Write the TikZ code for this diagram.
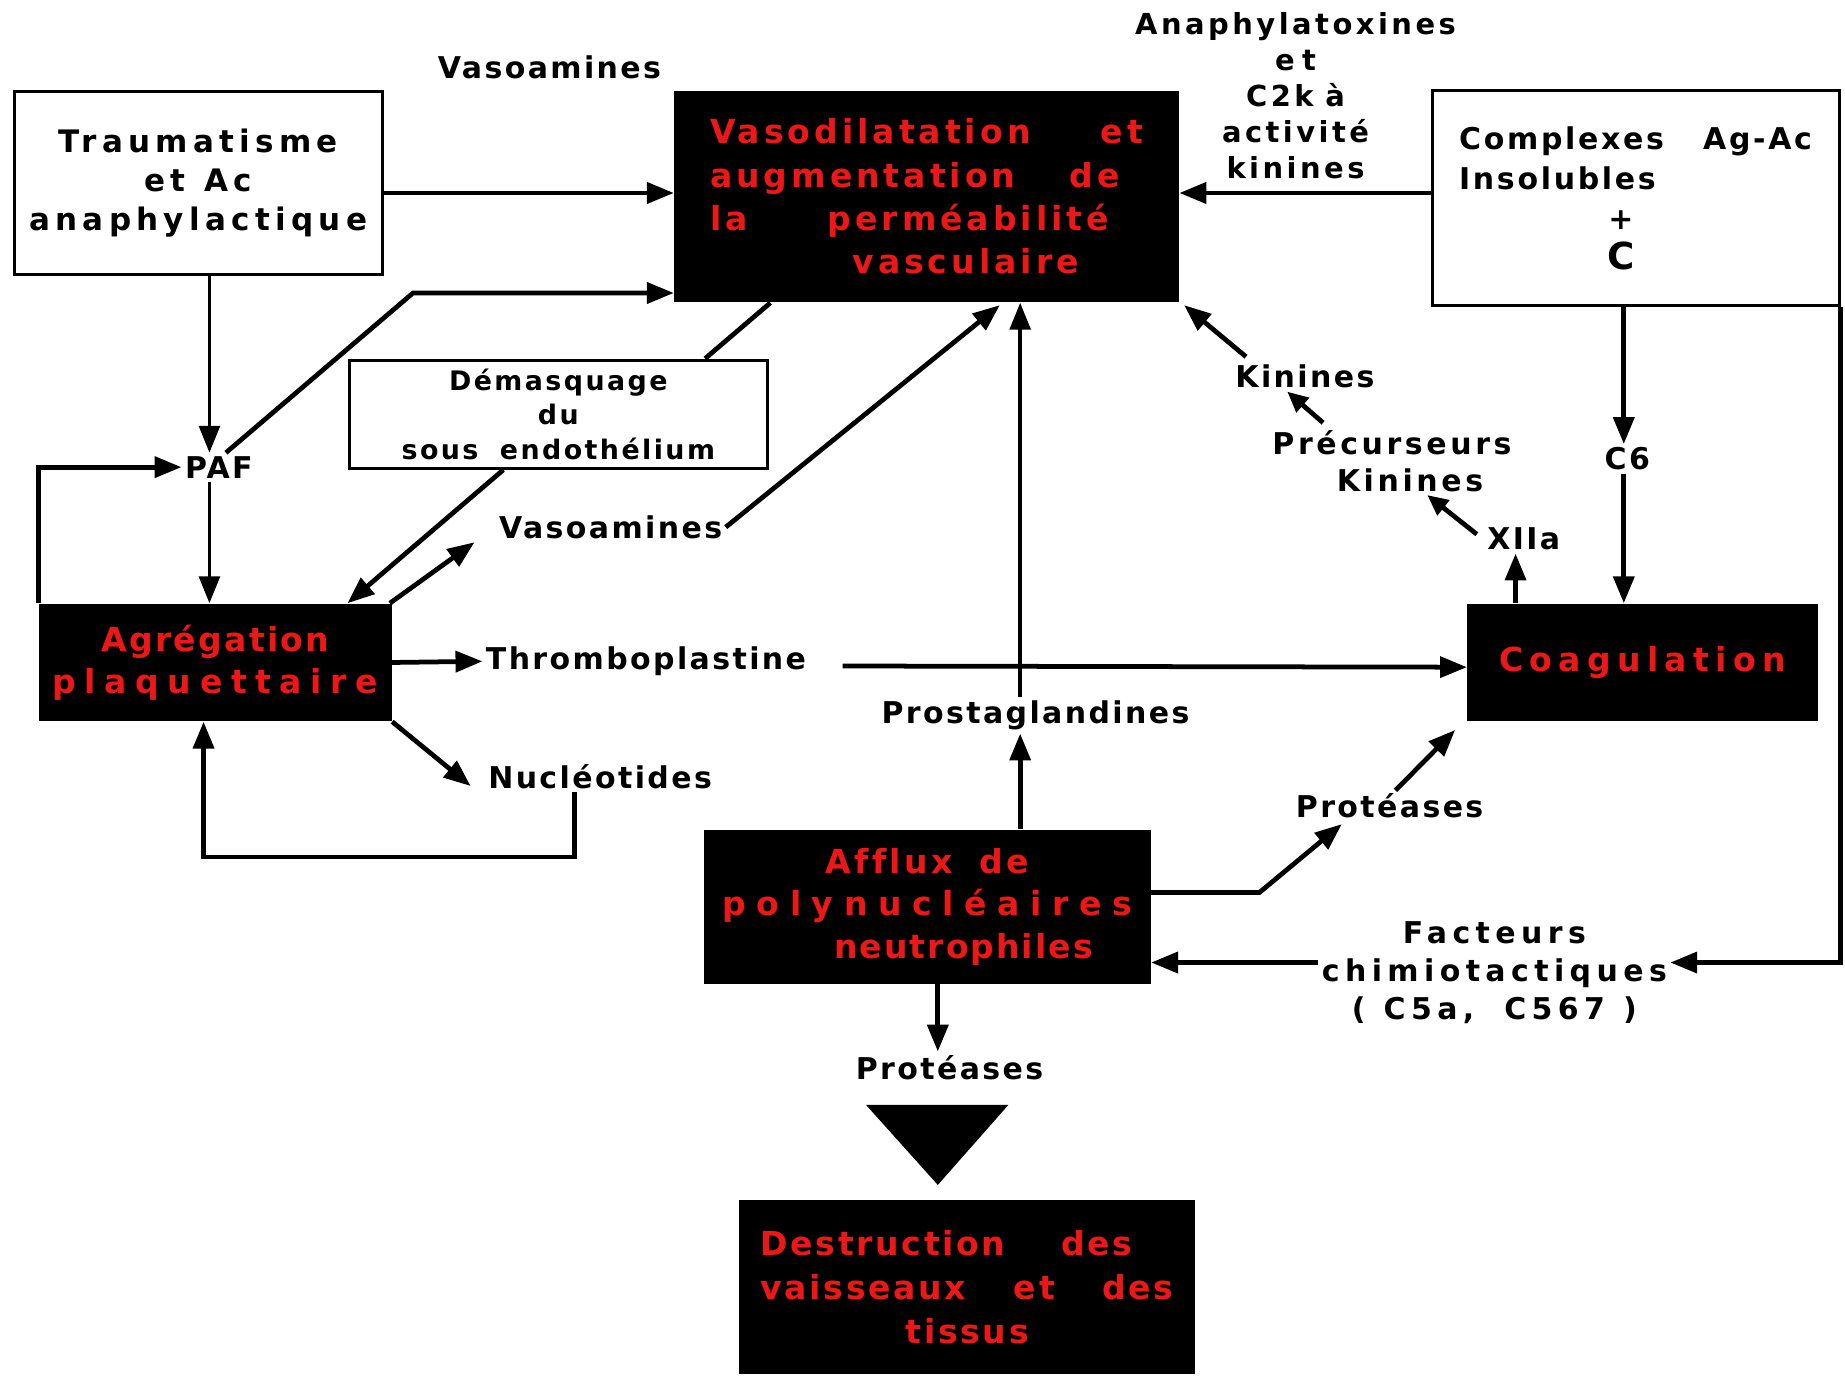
\documentclass[tikz,border=0pt]{standalone}
\usepackage{fontspec}
\setmainfont{DejaVu Sans}
\newfontfamily\fA{DejaVu Sans}[LetterSpace=8,Ligatures=NoCommon]
\newfontfamily\fB{DejaVu Sans}[LetterSpace=17,Ligatures=NoCommon]
\usetikzlibrary{arrows.meta,calc}
\definecolor{redtxt}{RGB}{236,24,24}
\newcommand{\lsp}[2]{{\addfontfeature{LetterSpace=#1}#2}}
\newcommand{\fLab}{\fA\bfseries\fontsize{14.5}{17.5}\selectfont}
\newcommand{\fRed}{\fA\bfseries\fontsize{16}{20.5}\selectfont}
\begin{document}
\begin{tikzpicture}[x=0.02cm,y=-0.02cm]
\tikzset{
 wbox/.style={draw,line width=1.5pt,inner sep=0pt,align=center},
 bbox/.style={fill=black,text=redtxt,inner sep=0pt,align=center,font=\fRed},
 lab/.style={inner sep=1.5pt,align=center,font=\fLab},
 arr/.style={line width=2.3pt,-{Triangle[length=13pt,width=10pt]}},
 thinarr/.style={line width=1.8pt,-{Triangle[length=13pt,width=10pt]}},
 sarr/.style={line width=2.3pt,-{Triangle[length=10pt,width=9pt]}},
 plain/.style={line width=2.3pt},
}
\fill[white] (0,0) rectangle (1568,1171);
\useasboundingbox (0,0) rectangle (1568,1171);

% boxes
\node[wbox,minimum width=6.26cm,minimum height=3.1cm,
  font=\fB\bfseries\fontsize{15}{18.8}\selectfont] (trauma) at (168.5,155.5)
  {Traumatisme\\et\hspace{0.6em}Ac\\anaphylactique};
\node[bbox,minimum width=8.58cm,minimum height=3.6cm,
  font=\fA\bfseries\addfontfeature{LetterSpace=12}\fontsize{16}{21}\selectfont] (vasod) at (787.5,167)
  {\makebox[7.36cm][s]{Vasodilatation\hfill et}\\
   \makebox[7.36cm][l]{\makebox[6.96cm][s]{augmentation\hfill de}}\\
   \makebox[7.36cm][l]{\makebox[6.78cm][s]{la\hfill perméabilité}}\\
   \makebox[7.36cm][l]{\hspace{2.42cm}vasculaire}};
\node[wbox,minimum width=6.92cm,minimum height=3.66cm,
  font=\fA\bfseries\addfontfeature{LetterSpace=9}\fontsize{14.5}{19.4}\selectfont] (compl) at (1390,168.5)
  {\makebox[6cm][s]{Complexes\hfill Ag-Ac}\\
   \makebox[6cm][l]{Insolubles}\\
   \makebox[6cm]{\hspace*{-0.5cm}+}\\
   \makebox[6cm]{\hspace*{-0.5cm}\fontsize{18}{19.4}\selectfont C}};
\node[wbox,minimum width=7.1cm,minimum height=1.84cm,
  font=\fA\bfseries\addfontfeature{LetterSpace=9}\fontsize{13}{16.8}\selectfont] (demasq) at (474.5,352)
  {Démasquage\\du\\sous\hspace{0.8em}endothélium};
\node[bbox,minimum width=6cm,minimum height=2cm] (agreg) at (183,563)
  {\lsp{7}{Agrégation}\\\lsp{26}{plaquettaire}};
\node[bbox,minimum width=5.96cm,minimum height=2cm] (coag) at (1396,563)
  {\lsp{19}{Coagulation}};
\node[bbox,minimum width=7.6cm,minimum height=2.62cm] (afflux) at (788,770.5)
  {\lsp{10}{Af{}f{}lux\hspace{0.8em}de}\\\lsp{32}{polynucléaires}\\\hspace{2.2em}\lsp{6}{neutrophiles}};
\node[bbox,minimum width=7.76cm,minimum height=2.96cm,
  font=\fA\bfseries\fontsize{16}{21.3}\selectfont] (destr) at (822,1094)
  {\makebox[7.02cm][l]{\makebox[6.32cm][s]{Destruction\hfill des}}\\
   \makebox[7.02cm][s]{vaisseaux\hfill et\hfill des}\\
   \makebox[7.02cm]{tissus}};

% labels
\node[lab] (vasoTop) at (467,57) {Vasoamines};
\node[lab,font=\fA\bfseries\addfontfeature{LetterSpace=12}\fontsize{14}{17.4}\selectfont] (anaph) at (1101,81)
  {Anaphylatoxines\\e\hspace{0.25em}t\\C2k\hspace{0.4em}à\\activité\\kinines};
\node[lab] (paf) at (186,397) {PAF};
\node[lab] (vasoMid) at (519,448) {Vasoamines};
\node[lab] (thrombo) at (549,562) {Thromboplastine};
\node[lab] (nucleo) at (510,660) {Nucléotides};
\node[lab] (prosta) at (880,608) {Prostaglandines};
\node[lab] (kinines) at (1109,320) {Kinines};
\node[lab,font=\fA\bfseries\addfontfeature{LetterSpace=12}\fontsize{14.5}{17.5}\selectfont] (precurs) at (1183,392) {Précurseurs\\\hspace{1.2em}Kinines};
\node[lab] (xiia) at (1295,458) {XIIa};
\node[lab] (c6) at (1383,390) {C6};
\node[lab] (proteR) at (1181,685) {Protéases};
\node[lab,font=\fA\bfseries\addfontfeature{LetterSpace=18}\fontsize{14.5}{18.4}\selectfont] (facteurs) at (1270,827)
  {Facteurs\\chimiotactiques\\(\hspace{0.6em}C5a,\hspace{1em}C567\hspace{0.6em})};
\node[lab] (proteB) at (807,907) {Protéases};

% helper coordinates
\coordinate (r1) at (0,164);
\coordinate (b1) at (351,249);
\coordinate (xp) at (178,0);
\coordinate (xv) at (867,0);
\coordinate (xc) at (1288,0);
\coordinate (xk) at (1380,0);
\coordinate (fy) at (0,818);
\coordinate (xb) at (797,0);

% connectors
\draw[arr] (trauma.east |- r1) -- (vasod.west |- r1);
\draw[arr] (compl.west |- r1) -- (vasod.east |- r1);
\draw[arr] ($(paf.north)+(6,0)$) -- (b1) -- (b1 -| vasod.west);
\draw[thinarr] (xp |- trauma.south) -- (xp |- paf.north);
\draw[thinarr] (xp |- paf.south) -- (xp |- agreg.north);
\draw[arr] (agreg.north west) |- (paf.west);
\draw[plain] ($(vasod.south west)+(82,0)$) -- ($(demasq.north east)+(-54,0)$);
\draw[arr] ($(demasq.south west)+(132,0)$) -- ($(agreg.north east)+(-38,0)$);
\draw[arr] ($(agreg.north east)+(-2,0)$) -- ($(vasoMid.south west)+(-18,0)$);
\draw[arr] (vasoMid.east) -- ($(vasod.south west)+(277,2)$);
\draw[arr] (agreg.east) -- (thrombo.west);
\draw[arr] ($(thrombo.east)+(28,4)$) -- ($(coag.west)+(0,4)$);
\draw[thinarr] (xv |- prosta.north) -- (xv |- vasod.south);
\draw[arr] (xv |- afflux.north) -- (xv |- prosta.south);
\draw[arr] (agreg.south east) -- ($(nucleo.west)+(-12,8)$);
\draw[arr] ($(nucleo.south)+(-22,0)$) -- ++(0,55) -| ($(agreg.south)+(-10,0)$);
\draw[arr] ($(afflux.east)+(0,-12)$) -- ++(92,0) -- ($(proteR.south west)+(42,2)$);
\draw[arr] ($(proteR.north)+(5,0)$) -- ($(coag.south west)+(-10,7)$);
\draw[arr] ($(kinines.north west)+(12,-4)$) -- ($(vasod.south east)+(4,2)$);
\draw[sarr] ($(precurs.north west)+(46,-4)$) -- ($(kinines.south)+(-15,0)$);
\draw[sarr] ($(xiia.west)+(-6,-4)$) -- ($(precurs.south)+(30,0)$);
\draw[arr] (xc |- coag.north) -- (xc |- xiia.south);
\draw[arr] (xk |- compl.south) -- (xk |- c6.north);
\draw[arr] (xk |- c6.south) -- (xk |- coag.north);
\draw[arr] (compl.south east) |- (facteurs.east |- fy);
\draw[arr] (facteurs.west |- fy) -- (afflux.east |- fy);
\draw[arr] (xb |- afflux.south) -- (xb |- proteB.north);
\fill (736,939) -- (857,939) -- (797,1007) -- cycle;
\end{tikzpicture}
\end{document}
